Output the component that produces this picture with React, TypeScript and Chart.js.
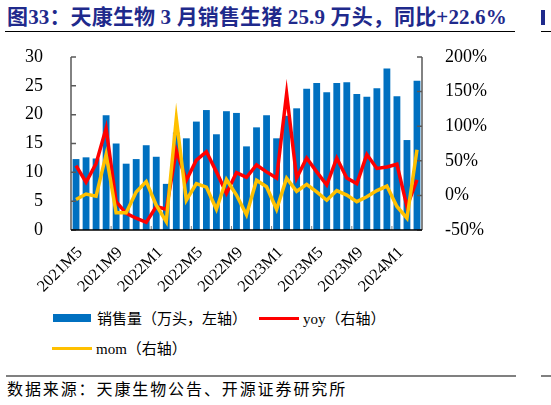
import { useEffect, useRef } from "react";
import { Chart, ChartConfiguration, registerables } from "chart.js";

Chart.register(...registerables);

const months = [
  "2021M5", "2021M6", "2021M7", "2021M8", "2021M9", "2021M10", "2021M11", "2021M12",
  "2022M1", "2022M2", "2022M3", "2022M4", "2022M5", "2022M6", "2022M7", "2022M8",
  "2022M9", "2022M10", "2022M11", "2022M12", "2023M1", "2023M2", "2023M3", "2023M4",
  "2023M5", "2023M6", "2023M7", "2023M8", "2023M9", "2023M10", "2023M11", "2023M12",
  "2024M1", "2024M2", "2024M3",
];

// 销售量（万头）
const sales = [
  12.3, 12.6, 12.4, 19.9, 15.0, 11.5, 12.3, 14.7, 12.7, 8.0, 16.9, 15.9,
  18.8, 20.8, 16.6, 20.6, 20.3, 14.5, 17.8, 19.9, 15.9, 19.8, 21.1, 24.5,
  25.5, 23.9, 25.5, 25.6, 23.6, 23.1, 24.6, 28.0, 23.2, 15.6, 25.9,
];

// yoy (%)
const yoy = [
  43, 19, 46, 97, -9, -26, -33, -39, -16, -20, 65, 22,
  51, 63, 34, 3, 33, 26, 44, 34, 25, 147, 25, 54,
  34, 15, 54, 25, 17, 59, 39, 41, 45, -16, 22.6,
];

// mom (%)
const mom = [
  -6, 2, -1, 59, -25, -25, 5, 20, -14, -38, 111, -7,
  17, 12, -20, 23, 0.5, -28, 22, 12.5, -20, 25, 6, 16,
  5, -7, 7, 0.5, -9, -2, 7, 13.5, -16, -33, 66,
];

const leftTicks = [0, 5, 10, 15, 20, 25, 30];
const rightTicks = [-50, 0, 50, 100, 150, 200];

const SERIF = '"Liberation Serif", "Times New Roman", "Noto Sans CJK SC", serif';
const TITLE_COLOR = "#1f2a8c";
const BAR_COLOR = "#0070c0";
const YOY_COLOR = "#ff0000";
const MOM_COLOR = "#ffc000";

// axis lines + inward tick marks like the Excel original
const axisMarks = {
  id: "axisMarks",
  afterDraw(chart: Chart) {
    const { ctx, chartArea } = chart;
    const { left, right, top, bottom } = chartArea;
    const y = chart.scales.y;
    const y1 = chart.scales.y1;
    const x = chart.scales.x;
    ctx.save();
    ctx.strokeStyle = "#595959";
    ctx.lineWidth = 1.5;
    ctx.beginPath();
    ctx.moveTo(left, top);
    ctx.lineTo(left, bottom);
    ctx.moveTo(right, top);
    ctx.lineTo(right, bottom);
    leftTicks.forEach((t) => {
      const py = y.getPixelForValue(t);
      ctx.moveTo(left, py);
      ctx.lineTo(left + 5, py);
    });
    rightTicks.forEach((t) => {
      const py = y1.getPixelForValue(t);
      ctx.moveTo(right, py);
      ctx.lineTo(right - 5, py);
    });
    ctx.stroke();
    ctx.strokeStyle = "#808080";
    ctx.lineWidth = 1;
    ctx.beginPath();
    for (let i = 4; i < months.length; i += 4) {
      const px = (x.getPixelForValue(i - 1) + x.getPixelForValue(i)) / 2;
      ctx.moveTo(px, bottom);
      ctx.lineTo(px, bottom - 4);
    }
    ctx.stroke();
    ctx.strokeStyle = "#000";
    ctx.lineWidth = 1.5;
    ctx.beginPath();
    ctx.moveTo(left, bottom);
    ctx.lineTo(right, bottom);
    ctx.stroke();
    ctx.restore();
  },
};

function SalesChart() {
  const canvasRef = useRef<HTMLCanvasElement>(null);
  const chartRef = useRef<Chart | null>(null);

  useEffect(() => {
    if (!canvasRef.current) return;
    if (chartRef.current) chartRef.current.destroy();
    const ctx = canvasRef.current.getContext("2d");
    if (!ctx) return;

    const config: ChartConfiguration = {
      type: "bar",
      data: {
        labels: months,
        datasets: [
          {
            type: "line",
            label: "mom（右轴）",
            data: mom,
            yAxisID: "y1",
            borderColor: MOM_COLOR,
            borderWidth: 3.5,
            pointRadius: 0,
            tension: 0,
            order: 0,
          },
          {
            type: "line",
            label: "yoy（右轴）",
            data: yoy,
            yAxisID: "y1",
            borderColor: YOY_COLOR,
            borderWidth: 3.5,
            pointRadius: 0,
            tension: 0,
            order: 1,
          },
          {
            type: "bar",
            label: "销售量（万头，左轴）",
            data: sales,
            yAxisID: "y",
            backgroundColor: BAR_COLOR,
            barPercentage: 0.68,
            categoryPercentage: 1,
            order: 2,
          },
        ],
      },
      options: {
        responsive: false,
        animation: false,
        events: [],
        layout: { padding: { top: 57, left: 0, right: 0, bottom: 0 } },
        plugins: {
          legend: { display: false },
          tooltip: { enabled: false },
        },
        scales: {
          x: {
            grid: { display: false },
            border: { display: false },
            afterFit: (s: any) => { s.height = 70; },
            ticks: {
              autoSkip: false,
              minRotation: 45,
              maxRotation: 45,
              padding: 5,
              labelOffset: 4,
              color: "#000",
              font: { family: SERIF, size: 16.5 },
              callback: (_v: any, i: number) => (i % 4 === 0 ? months[i] : ""),
            },
          },
          y: {
            position: "left",
            min: 0,
            max: 30,
            grid: { display: false },
            border: { display: false },
            afterFit: (s: any) => { s.width = 71; },
            ticks: {
              stepSize: 5,
              padding: 20,
              color: "#000",
              font: { family: SERIF, size: 18 },
            },
          },
          y1: {
            position: "right",
            min: -50,
            max: 200,
            grid: { display: false },
            border: { display: false },
            afterFit: (s: any) => { s.width = 129; },
            ticks: {
              stepSize: 50,
              padding: 15,
              color: "#000",
              font: { family: SERIF, size: 18 },
              callback: (v: any) => `${v}%`,
            },
          },
        },
      },
      plugins: [axisMarks],
    };

    chartRef.current = new Chart(ctx, config);
    return () => {
      if (chartRef.current) {
        chartRef.current.destroy();
        chartRef.current = null;
      }
    };
  }, []);

  return (
    <canvas
      ref={canvasRef}
      width={551}
      height={300}
      style={{ position: "absolute", left: 0, top: 0, width: 551, height: 300 }}
    />
  );
}

const legendText: React.CSSProperties = {
  position: "absolute",
  fontFamily: SERIF,
  fontSize: 15,
  lineHeight: "20px",
  color: "#000",
  whiteSpace: "nowrap",
};

export default function App() {
  return (
    <div
      style={{
        position: "absolute",
        left: 0,
        top: 0,
        width: 551,
        height: 405,
        background: "#fff",
        overflow: "hidden",
      }}
    >
      <div
        style={{
          position: "absolute",
          left: 7,
          top: 4,
          fontFamily: SERIF,
          fontWeight: "bold",
          fontSize: 21,
          letterSpacing: 0.15,
          lineHeight: "26px",
          color: TITLE_COLOR,
          whiteSpace: "nowrap",
        }}
      >
        图33：天康生物 3 月销售生猪 25.9 万头，同比+22.6%
      </div>
      <div style={{ position: "absolute", left: 5, top: 30.5, width: 510, height: 1.5, background: "#000" }} />
      <div style={{ position: "absolute", left: 541, top: 10, width: 4, height: 15, background: TITLE_COLOR }} />
      <div style={{ position: "absolute", left: 541, top: 30.5, width: 10, height: 1.5, background: "#000" }} />

      <SalesChart />

      <div style={{ position: "absolute", left: 53, top: 314, width: 38, height: 8, background: BAR_COLOR }} />
      <div style={{ ...legendText, left: 97, top: 309 }}>销售量（万头，左轴）</div>
      <div style={{ position: "absolute", left: 259, top: 317, width: 40, height: 3, background: YOY_COLOR }} />
      <div style={{ ...legendText, left: 303, top: 309 }}>yoy（右轴）</div>
      <div style={{ position: "absolute", left: 52, top: 346.5, width: 40, height: 3, background: MOM_COLOR }} />
      <div style={{ ...legendText, left: 96, top: 339 }}>mom（右轴）</div>

      <div style={{ position: "absolute", left: 6, top: 374.5, width: 510, height: 2, background: "#808080" }} />
      <div style={{ position: "absolute", left: 541, top: 374.5, width: 10, height: 2, background: "#808080" }} />
      <div
        style={{
          position: "absolute",
          left: 7,
          top: 380,
          fontFamily: SERIF,
          fontSize: 16,
          letterSpacing: 1.9,
          lineHeight: "20px",
          color: "#000",
          whiteSpace: "nowrap",
        }}
      >
        数据来源：天康生物公告、开源证券研究所
      </div>
    </div>
  );
}
